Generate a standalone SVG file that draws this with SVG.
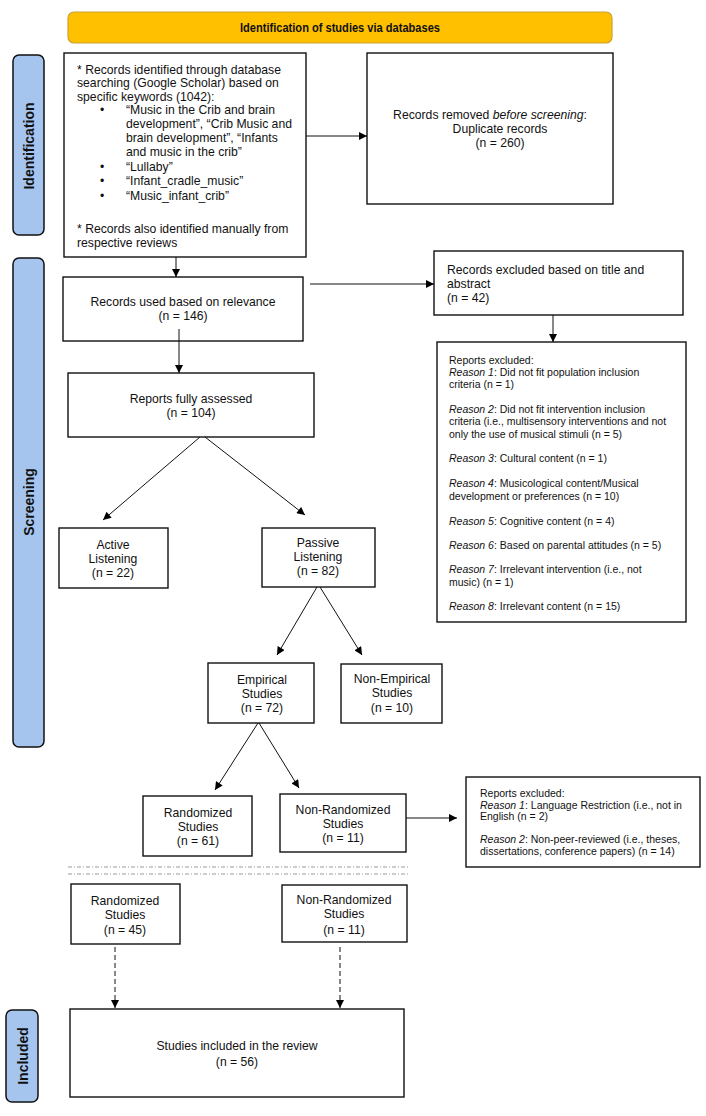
<svg xmlns="http://www.w3.org/2000/svg" width="706" height="1116" viewBox="0 0 706 1116">
<defs>
<marker id="ah" viewBox="0 0 10 10" refX="10" refY="5" markerUnits="userSpaceOnUse" markerWidth="9" markerHeight="8" orient="auto">
<path d="M0,0 L10,5 L0,10 z" fill="#000"/>
</marker>
</defs>
<style>
text{font-family:"Liberation Sans",Arial,sans-serif;fill:#111}
.box{fill:#fff;stroke:#111;stroke-width:1.4}
.side{fill:#a6c5ee;stroke:#111;stroke-width:1.5}
.lbl{font-size:14px;font-weight:bold;text-anchor:middle}
.t12{font-size:12.2px}
.c{text-anchor:middle}
.t10{font-size:10.5px}
.ln{stroke:#111;stroke-width:1;fill:none;marker-end:url(#ah)}
.dl{stroke:#111;stroke-width:1;fill:none;stroke-dasharray:5,3;marker-end:url(#ah)}
.sep{stroke:#999;stroke-width:1;stroke-dasharray:4,2,1,2}
</style>
<rect width="706" height="1116" fill="#fff"/>

<g id="header">
<rect x="68" y="12" width="544" height="31" rx="6" fill="#ffc000" stroke="#c9a235" stroke-width="1.2"/>
<text x="340" y="32" text-anchor="middle" font-size="12.5" font-weight="bold" textLength="200" lengthAdjust="spacingAndGlyphs">Identification of studies via databases</text>
</g>

<g id="side-identification">
<rect class="side" x="13" y="55" width="31" height="180" rx="6"/>
<text class="lbl" transform="translate(34,146) rotate(-90)">Identification</text>
</g>
<g id="side-screening">
<rect class="side" x="13" y="258" width="31" height="489" rx="6"/>
<text class="lbl" transform="translate(34,502) rotate(-90)">Screening</text>
</g>
<g id="side-included">
<rect class="side" x="6" y="1010" width="32" height="92" rx="6"/>
<text class="lbl" transform="translate(28,1056) rotate(-90)">Included</text>
</g>

<g id="records-identified">
<rect class="box" x="64" y="53" width="242" height="204"/>
<g class="t12">
<text x="77" y="74">* Records identified through database</text>
<text x="77" y="87">searching (Google Scholar) based on</text>
<text x="77" y="101">specific keywords (1042):</text>
<text x="100" y="114">•</text><text x="126" y="114">“Music in the Crib and brain</text>
<text x="126" y="128">development”, “Crib Music and</text>
<text x="126" y="142">brain development”, “Infants</text>
<text x="126" y="156">and music in the crib”</text>
<text x="100" y="171">•</text><text x="126" y="171">“Lullaby”</text>
<text x="100" y="185">•</text><text x="126" y="185">“Infant_cradle_music”</text>
<text x="100" y="200">•</text><text x="126" y="200">“Music_infant_crib”</text>
<text x="77" y="233">* Records also identified manually from</text>
<text x="77" y="247">respective reviews</text>
</g>
</g>

<g id="records-removed">
<rect class="box" x="367" y="53" width="246" height="151"/>
<text class="t12 c" x="490" y="119">Records removed <tspan font-style="italic">before screening</tspan>:</text>
<text class="t12 c" x="500" y="133">Duplicate records</text>
<text class="t12 c" x="500" y="147">(n = 260)</text>
</g>

<g id="records-used">
<rect class="box" x="63" y="277" width="240" height="64"/>
<text class="t12 c" x="183" y="306">Records used based on relevance</text>
<text class="t12 c" x="183" y="320">(n = 146)</text>
</g>

<g id="records-excluded">
<rect class="box" x="434" y="251" width="249" height="64"/>
<text class="t12" x="447" y="274">Records excluded based on title and</text>
<text class="t12" x="447" y="288">abstract</text>
<text class="t12" x="447" y="302">(n = 42)</text>
</g>

<g id="reports-excluded-1">
<rect class="box" x="437" y="342" width="249" height="280"/>
<g class="t10">
<text x="449" y="364">Reports excluded:</text>
<text x="449" y="376"><tspan font-style="italic">Reason 1</tspan>: Did not fit population inclusion</text>
<text x="449" y="388">criteria (n = 1)</text>
<text x="449" y="413"><tspan font-style="italic">Reason 2</tspan>: Did not fit intervention inclusion</text>
<text x="449" y="425">criteria (i.e., multisensory interventions and not</text>
<text x="449" y="438">only the use of musical stimuli (n = 5)</text>
<text x="449" y="462"><tspan font-style="italic">Reason 3</tspan>: Cultural content (n = 1)</text>
<text x="449" y="487"><tspan font-style="italic">Reason 4</tspan>: Musicological content/Musical</text>
<text x="449" y="500">development or preferences (n = 10)</text>
<text x="449" y="525"><tspan font-style="italic">Reason 5</tspan>: Cognitive content (n = 4)</text>
<text x="449" y="549"><tspan font-style="italic">Reason 6</tspan>: Based on parental attitudes (n = 5)</text>
<text x="449" y="573"><tspan font-style="italic">Reason 7</tspan>: Irrelevant intervention (i.e., not</text>
<text x="449" y="586">music) (n = 1)</text>
<text x="449" y="610"><tspan font-style="italic">Reason 8</tspan>: Irrelevant content (n = 15)</text>
</g>
</g>

<g id="reports-assessed">
<rect class="box" x="68" y="373" width="246" height="64"/>
<text class="t12 c" x="191" y="403">Reports fully assessed</text>
<text class="t12 c" x="191" y="417">(n = 104)</text>
</g>

<g id="active-listening">
<rect class="box" x="59" y="528" width="109" height="60"/>
<text class="t12 c" x="113" y="549">Active</text>
<text class="t12 c" x="113" y="563">Listening</text>
<text class="t12 c" x="113" y="577">(n = 22)</text>
</g>

<g id="passive-listening">
<rect class="box" x="262" y="528" width="113" height="59"/>
<text class="t12 c" x="318" y="547">Passive</text>
<text class="t12 c" x="318" y="561">Listening</text>
<text class="t12 c" x="318" y="575">(n = 82)</text>
</g>

<g id="empirical">
<rect class="box" x="208" y="663" width="106" height="60"/>
<text class="t12 c" x="262" y="684">Empirical</text>
<text class="t12 c" x="262" y="698">Studies</text>
<text class="t12 c" x="262" y="712">(n = 72)</text>
</g>

<g id="non-empirical">
<rect class="box" x="341" y="664" width="101" height="59"/>
<text class="t12 c" x="392" y="683">Non-Empirical</text>
<text class="t12 c" x="392" y="697">Studies</text>
<text class="t12 c" x="392" y="712">(n = 10)</text>
</g>

<g id="randomized-61">
<rect class="box" x="143" y="796" width="109" height="60"/>
<text class="t12 c" x="198" y="817">Randomized</text>
<text class="t12 c" x="198" y="831">Studies</text>
<text class="t12 c" x="198" y="845">(n = 61)</text>
</g>

<g id="non-randomized-11a">
<rect class="box" x="280" y="794" width="126" height="58"/>
<text class="t12 c" x="343" y="814">Non-Randomized</text>
<text class="t12 c" x="343" y="828">Studies</text>
<text class="t12 c" x="343" y="842">(n = 11)</text>
</g>

<g id="reports-excluded-2">
<rect class="box" x="466" y="777" width="234" height="90"/>
<g class="t10">
<text x="480" y="797">Reports excluded:</text>
<text x="480" y="808.5"><tspan font-style="italic">Reason 1</tspan>: Language Restriction (i.e., not in</text>
<text x="480" y="820">English (n = 2)</text>
<text x="480" y="843"><tspan font-style="italic">Reason 2</tspan>: Non-peer-reviewed (i.e., theses,</text>
<text x="480" y="854.5">dissertations, conference papers) (n = 14)</text>
</g>
</g>

<g id="separator">
<line class="sep" x1="68" y1="867" x2="408" y2="867"/>
<line class="sep" x1="68" y1="874" x2="408" y2="874"/>
</g>

<g id="randomized-45">
<rect class="box" x="71" y="884" width="109" height="60"/>
<text class="t12 c" x="125" y="905">Randomized</text>
<text class="t12 c" x="125" y="919">Studies</text>
<text class="t12 c" x="125" y="934">(n = 45)</text>
</g>

<g id="non-randomized-11b">
<rect class="box" x="282" y="885" width="125" height="57"/>
<text class="t12 c" x="344" y="904">Non-Randomized</text>
<text class="t12 c" x="344" y="918">Studies</text>
<text class="t12 c" x="344" y="934">(n = 11)</text>
</g>

<g id="studies-included">
<rect class="box" x="70" y="1009" width="334" height="88"/>
<text class="t12 c" x="237" y="1050">Studies included in the review</text>
<text class="t12 c" x="237" y="1066">(n = 56)</text>
</g>

<g id="connectors">
<line class="ln" x1="176" y1="257" x2="176" y2="277"/>
<line class="ln" x1="306" y1="136" x2="367" y2="136"/>
<line class="ln" x1="310" y1="284" x2="434" y2="284"/>
<line class="ln" x1="553" y1="315" x2="553" y2="342"/>
<line class="ln" x1="179" y1="329" x2="179" y2="373"/>
<line class="ln" x1="200" y1="437" x2="103" y2="520"/>
<line class="ln" x1="205" y1="437" x2="305" y2="515"/>
<line class="ln" x1="317" y1="587" x2="277" y2="655"/>
<line class="ln" x1="320" y1="587" x2="362" y2="655"/>
<line class="ln" x1="258" y1="723" x2="215" y2="790"/>
<line class="ln" x1="259" y1="723" x2="299" y2="788"/>
<line class="ln" x1="406" y1="818" x2="457" y2="818"/>
<line class="dl" x1="115" y1="947" x2="115" y2="1008"/>
<line class="dl" x1="340" y1="947" x2="340" y2="1008"/>
</g>
</svg>
